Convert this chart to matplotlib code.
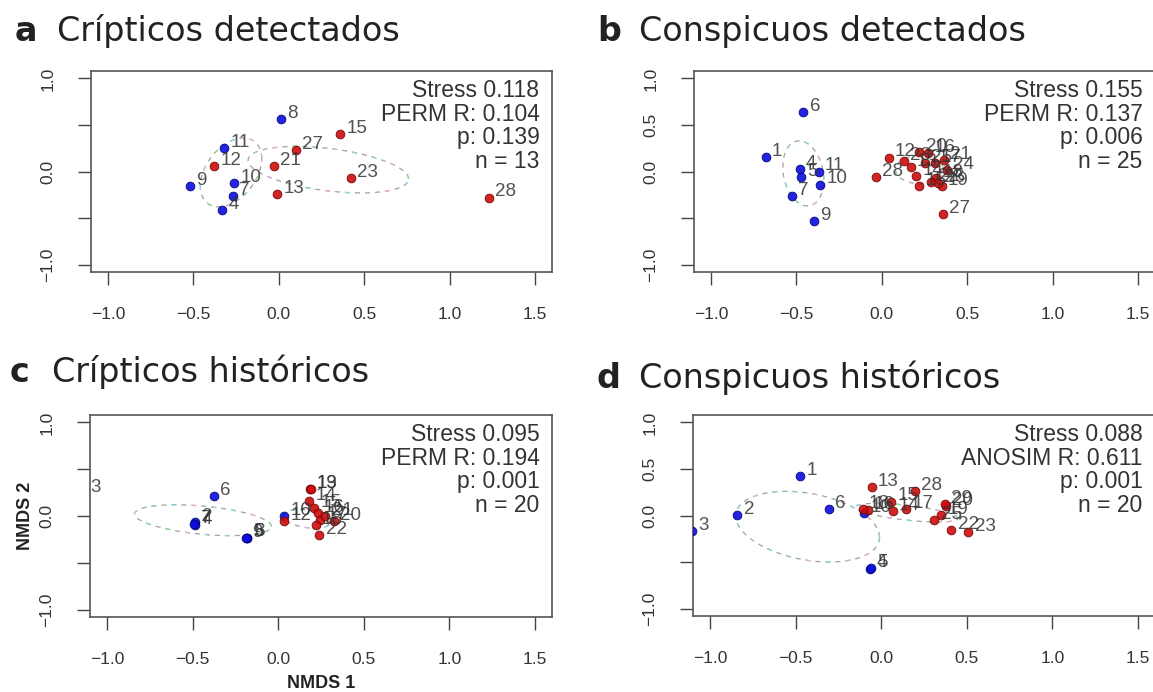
import matplotlib
matplotlib.use('Agg')
import matplotlib.pyplot as plt
import numpy as np

plt.rcParams['font.family'] = ['Liberation Sans', 'DejaVu Sans']
plt.rcParams['axes.unicode_minus'] = True

# ---------------- data ----------------
# panel a: Crípticos detectados
a_lab = [4, 7, 8, 9, 10, 11, 12, 13, 15, 21, 23, 27, 28]
a_x = [-0.33, -0.27, 0.01, -0.52, -0.26, -0.32, -0.38, -0.01, 0.36, -0.03, 0.42, 0.10, 1.23]
a_y = [-0.41, -0.26, 0.56, -0.16, -0.12, 0.25, 0.06, -0.24, 0.40, 0.06, -0.07, 0.23, -0.28]
a_grp = ['b'] * 6 + ['r'] * 7
a_ell = [(-0.28, -0.01, 0.18, 0.37, 0.4), (0.29, 0.02, 0.47, 0.25, -0.4)]
a_stats = ['Stress 0.118', 'PERM R: 0.104', 'p: 0.139', 'n = 13']

# panel b: Conspicuos detectados
b_lab = [1, 4, 5, 6, 7, 9, 10, 11,
         12, 13, 14, 15, 16, 17, 18, 19, 20, 21, 22, 23, 24, 25, 26, 27, 28]
b_x = [-0.68, -0.48, -0.476, -0.46, -0.525, -0.40, -0.36, -0.37,
       0.04, 0.17, 0.20, 0.22, 0.27, 0.31, 0.32, 0.35, 0.22, 0.365, 0.29, 0.13, 0.38, 0.25, 0.33,
       0.357, -0.035]
b_y = [0.16, 0.025, -0.06, 0.64, -0.26, -0.53, -0.14, 0.0,
       0.15, 0.05, -0.05, -0.16, 0.20, 0.09, -0.07, -0.16, 0.21, 0.125, -0.11, 0.11, 0.02, 0.09, -0.12,
       -0.46, -0.06]
b_grp = ['b'] * 8 + ['r'] * 17
b_ell = [(-0.46, -0.02, 0.12, 0.35, -0.2), (0.22, 0.02, 0.14, 0.15, 0.0)]
b_stats = ['Stress 0.155', 'PERM R: 0.137', 'p: 0.006', 'n = 25']

# panel c: Crípticos históricos
c_lab = [2, 3, 4, 5, 6, 7, 8, 9, 10,
         12, 13, 14, 15, 16, 17, 18, 19, 20, 21, 22]
c_x = [-0.484, -1.135, -0.484, -0.184, -0.375, -0.49, -0.18, -0.19, 0.035,
       0.035, 0.188, 0.18, 0.21, 0.23, 0.247, 0.22, 0.19, 0.325, 0.276, 0.24]
c_y = [-0.06, 0.25, -0.10, -0.23, 0.21, -0.09, -0.23, -0.235, 0.0,
       -0.05, 0.29, 0.165, 0.09, 0.03, -0.04, -0.10, 0.29, -0.05, 0.0, -0.20]
c_grp = ['b'] * 9 + ['r'] * 11
c_ell = [(-0.44, -0.045, 0.40, 0.165, -0.4), (0.17, -0.03, 0.14, 0.10, -0.3)]
c_stats = ['Stress 0.095', 'PERM R: 0.194', 'p: 0.001', 'n = 20']

# panel d: Conspicuos históricos
d_lab = [1, 2, 3, 4, 5, 6, 10,
         13, 14, 15, 16, 17, 18, 19, 20, 22, 23, 25, 28, 29]
d_x = [-0.475, -0.84, -1.105, -0.063, -0.06, -0.305, -0.098,
       -0.055, 0.066, 0.06, -0.08, 0.147, -0.108, 0.35, 0.38, 0.41, 0.51, 0.31, 0.196, 0.37]
d_y = [0.42, 0.01, -0.17, -0.57, -0.565, 0.07, 0.03,
       0.31, 0.045, 0.15, 0.06, 0.07, 0.07, 0.01, 0.10, -0.16, -0.18, -0.05, 0.26, 0.12]
d_grp = ['b'] * 7 + ['r'] * 13
d_ell = [(-0.43, -0.12, 0.42, 0.38, -0.3), (0.15, 0.03, 0.30, 0.10, -0.6)]
d_stats = ['Stress 0.088', 'ANOSIM R: 0.611', 'p: 0.001', 'n = 20']

xticks = [-1.0, -0.5, 0.0, 0.5, 1.0, 1.5]
yticks = [-1.0, -0.5, 0.0, 0.5, 1.0]
ylab_ac = ['\u22121.0', '', '0.0', '', '1.0']
ylab_bd = ['\u22121.0', '', '0.0', '0.5', '1.0']

# ---------------- drawing ----------------
W, H = 1153, 692
fig = plt.figure(figsize=(W / 100, H / 100), dpi=100)


def rect(l, t, r, b):
    return [l / W, 1 - b / H, (r - l) / W, (b - t) / H]


face = {'b': '#0c0ce0', 'r': '#cc0c0c'}
edge = {'b': '#00006e', 'r': '#700000'}


def ellipse(ax, cx, cy, rx, ry, rho):
    t = np.linspace(0, 2 * np.pi, 300)
    x = cx + rx * np.cos(t)
    y = cy + ry * (rho * np.cos(t) + np.sqrt(1 - rho ** 2) * np.sin(t))
    ax.plot(x, y, color='#a0a0a0', lw=0.9, ls=(0, (4, 4)), zorder=1)
    for i, c in enumerate(['#9ad69a', '#8fcfe0', '#e6b0cc']):
        ax.plot(x, y, color=c, lw=0.9, ls=(i * 16, (4, 44)), zorder=1)


def panel(pos, xs, ys, labs, grps, ells, stats, ylabs):
    ax = fig.add_axes(rect(*pos))
    for e in ells:
        ellipse(ax, *e)
    for x, y, g in zip(xs, ys, grps):
        ax.scatter(x, y, s=40, color=face[g], edgecolors=edge[g], linewidths=0.6,
                   alpha=0.9, zorder=3)
    for x, y, l in zip(xs, ys, labs):
        ax.annotate(str(l), (x, y), xytext=(4.5, 4), textcoords='offset points',
                    ha='left', va='center', fontsize=13.5, color='#333333', alpha=0.85,
                    annotation_clip=False, zorder=4)
    ax.annotate('\n'.join(stats), (1, 1), xycoords='axes fraction', xytext=(-9, -6),
                textcoords='offset points', ha='right', va='top', fontsize=16.5,
                color='#333333', linespacing=1.03)
    ax.set_xlim(-1.1, 1.6)
    ax.set_ylim(-1.08, 1.08)
    ax.set_xticks(xticks)
    ax.set_xticklabels(['%.1f' % v if v >= 0 else '\u2212%.1f' % -v for v in xticks])
    ax.set_yticks(yticks)
    ax.set_yticklabels(ylabs, rotation=90, va='center')
    ax.tick_params(direction='out', length=9.5, width=1.0, colors='#444444',
                   labelsize=12.5, labelcolor='#333333', pad=16)
    for s in ax.spines.values():
        s.set_color('#555555')
        s.set_linewidth(1.2)
    return ax


panel((91, 71, 552, 272), a_x, a_y, a_lab, a_grp, a_ell, a_stats, ylab_ac)
panel((694, 71, 1155, 272), b_x, b_y, b_lab, b_grp, b_ell, b_stats, ylab_bd)
axc = panel((90, 415, 552, 617), c_x, c_y, c_lab, c_grp, c_ell, c_stats, ylab_ac)
panel((693, 415, 1155, 616), d_x, d_y, d_lab, d_grp, d_ell, d_stats, ylab_bd)

axc.set_xlabel('NMDS 1', fontsize=13, fontweight='bold', color='#222222')
axc.set_ylabel('NMDS 2', fontsize=13, fontweight='bold', color='#222222')
axc.xaxis.set_label_coords(0.5, -(683 - 617) / 202, transform=axc.transAxes)
axc.yaxis.set_label_coords(-(90 - 26) / 462, 0.5, transform=axc.transAxes)
axc.xaxis.label.set_va('center')
axc.yaxis.label.set_va('center')

titles = [('a', 'Crípticos detectados', 15, 41), ('b', 'Conspicuos detectados', 597, 41),
          ('c', 'Crípticos históricos', 10, 382), ('d', 'Conspicuos históricos', 597, 388)]
for letter, txt, px, py in titles:
    fig.text(px / W, 1 - py / H, letter, fontsize=24, fontweight='bold',
             family='DejaVu Sans', color='#222222', va='baseline')
    fig.text((px + 42) / W, 1 - py / H, txt, fontsize=24,
             family='DejaVu Sans', color='#222222', va='baseline')

fig.savefig('out.png', dpi=100)
